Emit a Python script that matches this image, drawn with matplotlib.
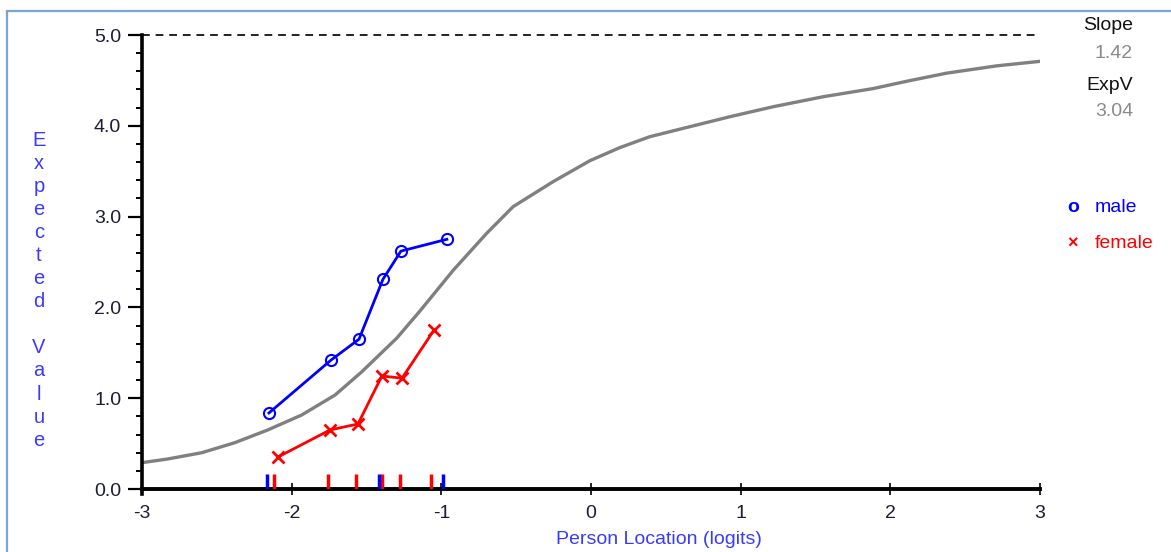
import matplotlib
matplotlib.use("Agg")
import matplotlib.pyplot as plt
from matplotlib.patches import Rectangle
from matplotlib.ticker import MultipleLocator


# expected value curve (ICC) for the item
curve_x = [-3.0, -2.83, -2.60, -2.38, -2.16, -1.933, -1.71, -1.532, -1.297, -1.143,
           -0.920, -0.697, -0.520, -0.253, -0.007, 0.193, 0.393, 0.66, 0.928, 1.217,
           1.551, 1.885, 2.108, 2.377, 2.71, 3.0]
curve_y = [0.29, 0.33, 0.40, 0.51, 0.65, 0.815, 1.035, 1.29, 1.663, 1.96,
           2.41, 2.816, 3.11, 3.385, 3.616, 3.76, 3.88, 3.99, 4.10, 4.21,
           4.32, 4.41, 4.49, 4.58, 4.66, 4.71]

# observed class-interval means by group
male_x = [-2.152, -1.737, -1.550, -1.390, -1.270, -0.963]
male_y = [0.837, 1.42, 1.65, 2.31, 2.62, 2.75]
female_x = [-2.092, -1.744, -1.557, -1.397, -1.263, -1.049]
female_y = [0.352, 0.65, 0.716, 1.245, 1.22, 1.75]

# person location markers along the x axis
male_rug = [-2.165, -1.415, -0.991]
female_rug = [-2.118, -1.760, -1.568, -1.399, -1.277, -1.069]

max_score = 5.0
slope = "1.42"
exp_v = "3.04"

x_ticks = [-3, -2, -1, 0, 1, 2, 3]
y_ticks = [0, 1, 2, 3, 4, 5]

W, H = 1171, 552
LABEL_FONT = ["Liberation Sans", "DejaVu Sans"]
TICK_FONT = ["Liberation Sans", "DejaVu Sans"]
BLUE = "#0000ff"
RED = "#ff0000"
LABEL_BLUE = "#3a3aff"
TICK_COL = "#1c1c38"

fig = plt.figure(figsize=(W / 100, H / 100), dpi=100)
fig.patch.set_facecolor("white")

# thin frame round the panel
fig.add_artist(Rectangle((7 / W, -0.2), 1.2, 1.2 - 11 / H, transform=fig.transFigure,
                         fill=False, edgecolor="#7aa3d6", linewidth=1.6))

ax = fig.add_axes([142 / W, 1 - 489 / H, (1040 - 142) / W, (489 - 35) / H])
ax.set_xlim(-3, 3)
ax.set_ylim(0, max_score)

ax.plot(curve_x, curve_y, color="#808080", linewidth=2.4, zorder=2)
ax.axhline(max_score, color="#222222", linewidth=1.4, linestyle=(0, (4, 3)), clip_on=False, zorder=1)

ax.plot(male_x, male_y, color=BLUE, linewidth=2.0, marker="o", markersize=8,
        markerfacecolor="none", markeredgewidth=1.5, zorder=4)
ax.plot(female_x, female_y, color=RED, linewidth=2.0, marker="x", markersize=8,
        markeredgewidth=2.0, zorder=4)

ax.vlines(female_rug, 0, 0.17, color=RED, linewidth=2.5, zorder=3)
ax.vlines(male_rug, 0, 0.17, color=BLUE, linewidth=2.5, zorder=3)

for side in ["top", "right"]:
    ax.spines[side].set_visible(False)
ax.spines["left"].set_linewidth(2.6)
ax.spines["bottom"].set_linewidth(2.8)
ax.spines["left"].set_bounds(-0.05, max_score)

ax.set_xticks(x_ticks)
ax.set_xticklabels([str(t) for t in x_ticks])
ax.set_yticks(y_ticks)
ax.set_yticklabels([f"{t:.1f}" for t in y_ticks])
ax.yaxis.set_minor_locator(MultipleLocator(0.2))
ax.tick_params(axis="y", which="major", direction="out", length=10, width=1.6, pad=5,
               labelsize=14, labelcolor=TICK_COL)
ax.tick_params(axis="y", which="minor", direction="out", length=4.5, width=1.4)
ax.tick_params(axis="x", which="major", direction="inout", length=9, width=1.2, pad=7,
               labelsize=14, labelcolor=TICK_COL)
for lbl in ax.get_xticklabels() + ax.get_yticklabels():
    lbl.set_family(TICK_FONT)

ax.set_facecolor("none")

# axis titles
fig.text(659 / W, 1 - 539 / H, "Person Location (logits)", ha="center", va="center",
         fontsize=14, color=LABEL_BLUE, family=LABEL_FONT)
ylabel_letters = list("Expected") + [""] + list("Value")
for i, ch in enumerate(ylabel_letters):
    if ch:
        fig.text(39 / W, 1 - (140 + i * 23.1) / H, ch, ha="center", va="center",
                 fontsize=14.5, color=LABEL_BLUE, family=LABEL_FONT)

# item statistics
right_x = 1133 / W
fig.text(right_x, 1 - 26 / H, "Slope", ha="right", va="center", fontsize=14,
         color="#111111", family=LABEL_FONT)
fig.text(right_x, 1 - 54 / H, slope, ha="right", va="center", fontsize=14,
         color="#8a8a8a", family=LABEL_FONT)
fig.text(right_x, 1 - 86 / H, "ExpV", ha="right", va="center", fontsize=14,
         color="#111111", family=LABEL_FONT)
fig.text(right_x, 1 - 111 / H, exp_v, ha="right", va="center", fontsize=14,
         color="#8a8a8a", family=LABEL_FONT)

# group key
fig.text(1073 / W, 1 - 208 / H, "o", ha="center", va="center", fontsize=14,
         color=BLUE, fontweight="bold", family=LABEL_FONT)
fig.text(1095 / W, 1 - 208 / H, "male", ha="left", va="center", fontsize=14,
         color=BLUE, family=LABEL_FONT)
fig.text(1073 / W, 1 - 244 / H, "\u00d7", ha="center", va="center", fontsize=13,
         color=RED, fontweight="bold", family=LABEL_FONT)
fig.text(1095 / W, 1 - 244 / H, "female", ha="left", va="center", fontsize=14,
         color=RED, family=LABEL_FONT)

fig.savefig("out.png", dpi=100)
plt.close(fig)
